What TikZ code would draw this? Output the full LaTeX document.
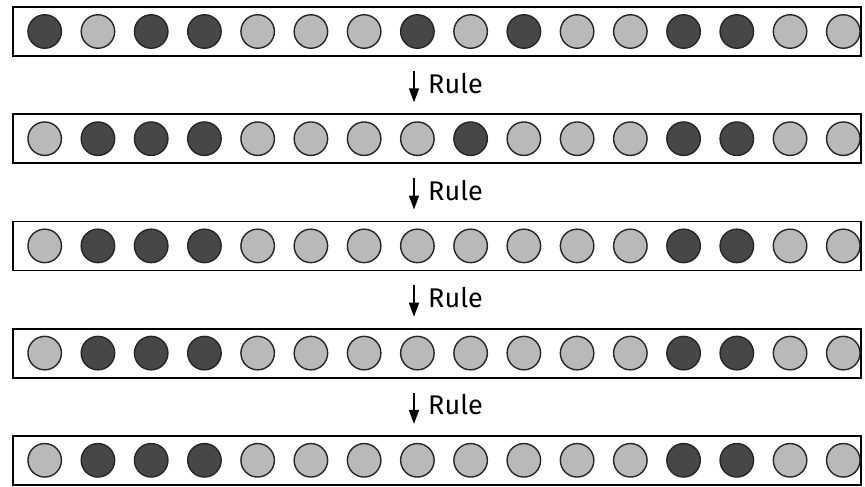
\documentclass[tikz,border=0pt]{standalone}
\usepackage{fontspec}
\setmainfont{Fira Sans}
\usetikzlibrary{arrows.meta}
\definecolor{darkball}{HTML}{474747}
\definecolor{lightball}{HTML}{B9B9B9}
\tikzset{
  rowbox/.style={draw=black, line width=1.8pt, fill=white, minimum width=848pt, minimum height=49pt, inner sep=0pt},
  ball/.style={circle, draw=black!85, line width=1.4pt, minimum size=33.5pt, inner sep=0pt},
  D/.style={ball, fill=darkball},
  L/.style={ball, fill=lightball},
  rulearrow/.style={draw=black, line width=1.5pt, -{Triangle[length=14pt,width=10pt]}},
  rulelabel/.style={anchor=base west, font=\fontsize{27}{30}\selectfont, inner sep=0pt},
}
\begin{document}
\begin{tikzpicture}[x=1pt,y=-1pt]
\useasboundingbox (0,0) rectangle (865,487);
\foreach \r/\pat in {1/{D,L,D,D,L,L,L,D,L,D,L,L,D,D,L,L},
                     2/{L,D,D,D,L,L,L,L,D,L,L,L,D,D,L,L},
                     3/{L,D,D,D,L,L,L,L,L,L,L,L,D,D,L,L},
                     4/{L,D,D,D,L,L,L,L,L,L,L,L,D,D,L,L},
                     5/{L,D,D,D,L,L,L,L,L,L,L,L,D,D,L,L}}{
  \pgfmathsetmacro{\yc}{31.5+(\r-1)*107.2}
  \node[rowbox] (row\r) at (437,\yc) {};
  \foreach \s [count=\i from 0] in \pat {
    \node[\s] (b\r-\i) at ({44.7+\i*53.24},\yc) {};
  }
}
\foreach \r [evaluate=\r as \n using int(\r+1)] in {1,2,3,4}{
  \coordinate (as\r) at ([xshift=-23pt,yshift=-14pt]row\r.south);
  \coordinate (ae\r) at ([xshift=-23pt,yshift=11pt]row\n.north);
  \draw[rulearrow] (as\r) -- (ae\r);
  \node[rulelabel] (lab\r) at ([xshift=14pt,yshift=9pt]ae\r) {Rule};
}
\end{tikzpicture}
\end{document}
